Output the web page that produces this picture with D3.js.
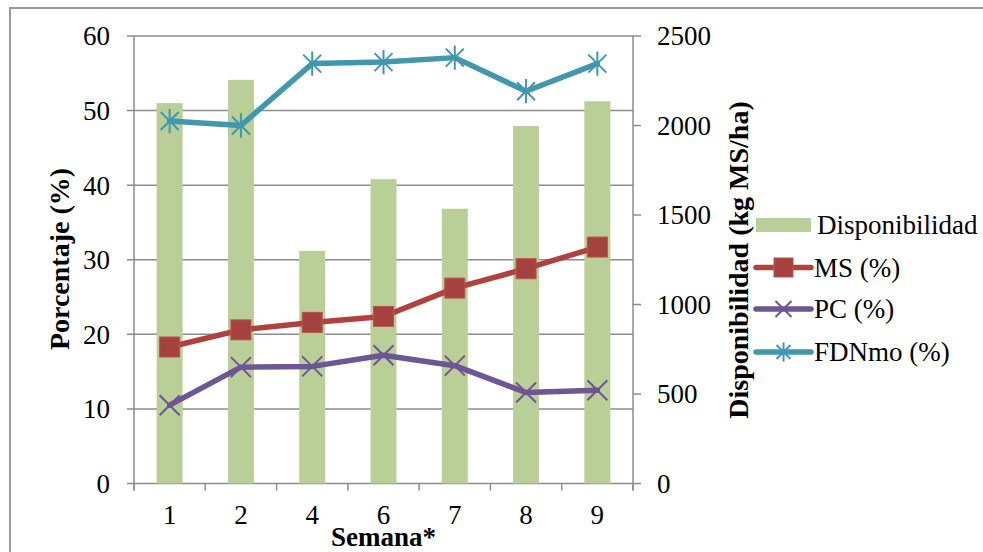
<!DOCTYPE html>
<html>
<head>
<meta charset="utf-8">
<script src="https://cdn.jsdelivr.net/npm/d3@7"></script>
<style>
  html, body { margin: 0; padding: 0; background: #fff; }
  svg { display: block; }
  svg text { font-family: "Liberation Serif", "Times New Roman", serif; fill: #000; }
</style>
</head>
<body>
<svg id="chart" width="983" height="552"></svg>
<script>
// Weekly forage data
const semanas = ["1", "2", "4", "6", "7", "8", "9"];
const disponibilidad = [2125, 2255, 1300, 1700, 1535, 1997, 2135]; // kg MS/ha
const ms = [18.3, 20.6, 21.6, 22.4, 26.2, 28.8, 31.7];           // %
const pc = [10.5, 15.6, 15.7, 17.2, 15.8, 12.2, 12.5];           // %
const fdn = [48.6, 48.0, 56.3, 56.5, 57.1, 52.6, 56.3];          // %
const leftTicks = [0, 10, 20, 30, 40, 50, 60];
const rightTicks = [0, 500, 1000, 1500, 2000, 2500];

const colors = {
  bar: "#BACF97",
  ms: "#B0423E", msMarker: "#A5413E",
  pc: "#6E5594",
  fdn: "#4297AE",
  grid: "#8C8C8C"
};

const svg = d3.select("#chart");
const plot = { left: 134, right: 633, top: 36, bottom: 483.5 };

// Outer frame
svg.append("rect")
  .attr("x", 10).attr("y", 8)
  .attr("width", 1000).attr("height", 600)
  .attr("fill", "none").attr("stroke", "#9A9A9A").attr("stroke-width", 2);

const x = d3.scaleBand().domain(semanas).range([plot.left, plot.right]).paddingInner(0).paddingOuter(0);
const yL = d3.scaleLinear().domain([0, 60]).range([plot.bottom, plot.top]);
const yR = d3.scaleLinear().domain([0, 2500]).range([plot.bottom, plot.top]);
const cx = d => x(d) + x.bandwidth() / 2;
const barW = 26;

// Horizontal gridlines (left axis)
svg.append("g").selectAll("line").data(leftTicks).join("line")
  .attr("x1", plot.left - 7).attr("x2", plot.right)
  .attr("y1", d => yL(d)).attr("y2", d => yL(d))
  .attr("stroke", colors.grid).attr("stroke-width", 1.5);

// Bars: Disponibilidad on right axis
svg.append("g").selectAll("rect").data(semanas).join("rect")
  .attr("x", (d) => cx(d) - barW / 2)
  .attr("y", (d, i) => yR(disponibilidad[i]))
  .attr("width", barW)
  .attr("height", (d, i) => plot.bottom - yR(disponibilidad[i]))
  .attr("fill", colors.bar);

// Axes lines
const axisG = svg.append("g").attr("stroke", colors.grid).attr("stroke-width", 1.5);
axisG.append("line").attr("x1", plot.left).attr("x2", plot.left).attr("y1", plot.top).attr("y2", plot.bottom + 7);
axisG.append("line").attr("x1", plot.right).attr("x2", plot.right).attr("y1", plot.top).attr("y2", plot.bottom + 7);
// category ticks at band boundaries
const boundaries = semanas.map(d => x(d)).concat([plot.right]);
axisG.selectAll(".xt").data(boundaries).join("line")
  .attr("x1", d => d).attr("x2", d => d)
  .attr("y1", plot.bottom).attr("y2", plot.bottom + 7);
// right axis ticks
axisG.selectAll(".rt").data(rightTicks).join("line")
  .attr("x1", plot.right).attr("x2", plot.right + 8)
  .attr("y1", d => yR(d)).attr("y2", d => yR(d));

// Tick labels
const tickFont = 27;
svg.append("g").selectAll("text").data(leftTicks).join("text")
  .attr("x", 110).attr("y", d => yL(d)).attr("dy", "0.35em")
  .attr("text-anchor", "end").attr("font-size", tickFont).text(d => d);
svg.append("g").selectAll("text").data(rightTicks).join("text")
  .attr("x", 657).attr("y", d => yR(d)).attr("dy", "0.35em")
  .attr("text-anchor", "start").attr("font-size", tickFont).text(d => d);
svg.append("g").selectAll("text").data(semanas).join("text")
  .attr("x", d => cx(d)).attr("y", 524)
  .attr("text-anchor", "middle").attr("font-size", tickFont).text(d => d);

// Axis titles
svg.append("text").attr("transform", "translate(69,259) rotate(-90)")
  .attr("text-anchor", "middle").attr("font-size", 28).attr("font-weight", "bold")
  .text("Porcentaje (%)");
svg.append("text").attr("transform", "translate(748,260) rotate(-90)")
  .attr("text-anchor", "middle").attr("font-size", 28).attr("font-weight", "bold")
  .text("Disponibilidad (kg MS/ha)");
svg.append("text").attr("x", (plot.left + plot.right) / 2).attr("y", 546)
  .attr("text-anchor", "middle").attr("font-size", 27).attr("font-weight", "bold")
  .text("Semana*");

// Marker drawers
function drawSquare(g, px, py, size) {
  g.append("rect").attr("x", px - size / 2).attr("y", py - size / 2)
    .attr("width", size).attr("height", size)
    .attr("fill", colors.msMarker).attr("stroke", "#B85450").attr("stroke-width", 1);
}
function drawX(g, px, py, r, color) {
  g.append("path").attr("d", `M${px - r},${py - r}L${px + r},${py + r}M${px - r},${py + r}L${px + r},${py - r}`)
    .attr("stroke", color).attr("stroke-width", 2).attr("fill", "none");
}
function drawStar(g, px, py, r, color) {
  g.append("path").attr("d",
    `M${px - r},${py - r}L${px + r},${py + r}M${px - r},${py + r}L${px + r},${py - r}M${px},${py - r * 1.35}L${px},${py + r * 1.35}`)
    .attr("stroke", color).attr("stroke-width", 2).attr("fill", "none");
}

const lineGen = (vals) => d3.line().x((d, i) => cx(semanas[i])).y(d => yL(d))(vals);

const series = [
  { vals: ms, color: colors.ms, marker: "square" },
  { vals: pc, color: colors.pc, marker: "x" },
  { vals: fdn, color: colors.fdn, marker: "star" }
];
series.forEach(s => {
  const g = svg.append("g");
  g.append("path").attr("d", lineGen(s.vals)).attr("fill", "none")
    .attr("stroke", s.color).attr("stroke-width", 5.5).attr("stroke-linejoin", "round").attr("stroke-linecap", "round");
  s.vals.forEach((v, i) => {
    const px = cx(semanas[i]), py = yL(v);
    if (s.marker === "square") drawSquare(g, px, py, 20);
    else if (s.marker === "x") drawX(g, px, py, 10, s.color);
    else drawStar(g, px, py, 9, s.color);
  });
});

// Legend
const leg = svg.append("g");
const lx0 = 756, lx1 = 811, lmid = (lx0 + lx1) / 2, ltx = 814;
leg.append("rect").attr("x", lx0).attr("y", 218).attr("width", lx1 - lx0).attr("height", 14).attr("fill", colors.bar);
leg.append("text").attr("x", ltx + 3).attr("y", 225).attr("dy", "0.35em").attr("font-size", 27).text("Disponibilidad");
const legItems = [
  { name: "MS (%)", color: colors.ms, marker: "square", y: 267.5 },
  { name: "PC (%)", color: colors.pc, marker: "x", y: 309 },
  { name: "FDNmo (%)", color: colors.fdn, marker: "star", y: 352 }
];
legItems.forEach(it => {
  leg.append("line").attr("x1", lx0).attr("x2", lx1).attr("y1", it.y).attr("y2", it.y)
    .attr("stroke", it.color).attr("stroke-width", 5.5).attr("stroke-linecap", "round");
  if (it.marker === "square") drawSquare(leg, lmid, it.y, 19);
  else if (it.marker === "x") drawX(leg, lmid, it.y, 8, it.color);
  else drawStar(leg, lmid, it.y, 7, it.color);
  leg.append("text").attr("x", ltx).attr("y", it.y).attr("dy", "0.35em").attr("font-size", 27).text(it.name);
});
</script>
</body>
</html>
